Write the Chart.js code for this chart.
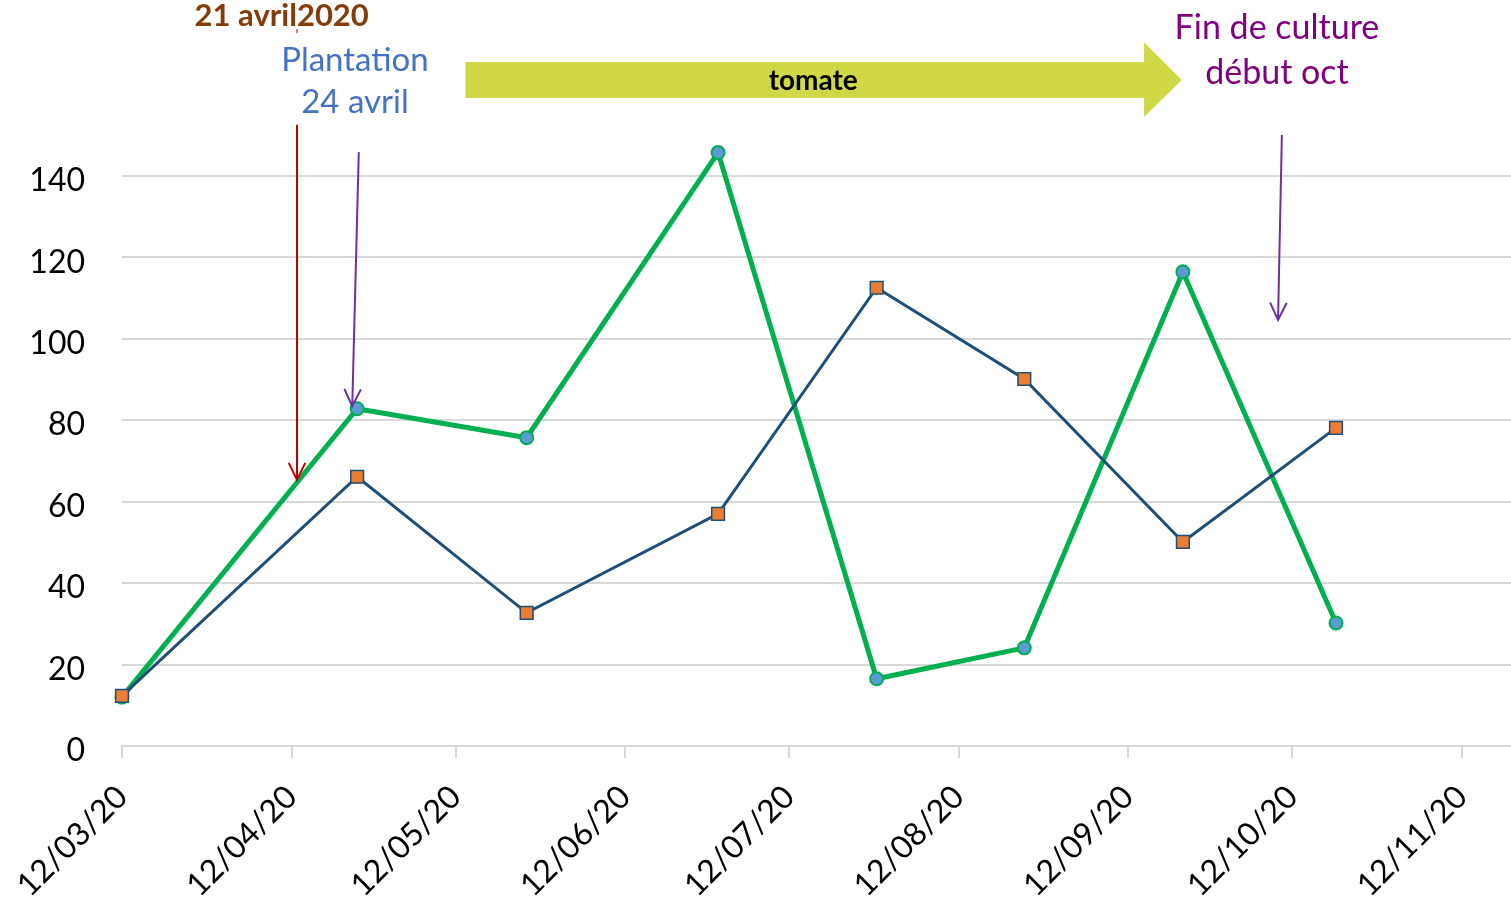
<!DOCTYPE html>
<html>
<head>
<meta charset="utf-8">
<script src="https://cdn.jsdelivr.net/npm/chart.js@4.4.1/dist/chart.umd.min.js"></script>
<style>
  html, body { margin: 0; padding: 0; background: #fff; }
  #wrap { width: 1511px; height: 908px; position: relative; }
</style>
</head>
<body>
<div id="wrap"><canvas id="chart"></canvas></div>
<script>
// sampling dates and values
const sampleDates = ['2020-03-12', '2020-04-24', '2020-05-25', '2020-06-29', '2020-07-28', '2020-08-24', '2020-09-22', '2020-10-20'];
const greenValues = [12.0, 82.8, 75.7, 145.7, 16.5, 24.1, 116.4, 30.2];
const blueValues = [12.3, 66.1, 32.7, 57.0, 112.5, 90.1, 50.1, 78.1];
const tickDates = ['2020-03-12', '2020-04-12', '2020-05-12', '2020-06-12', '2020-07-12', '2020-08-12', '2020-09-12', '2020-10-12', '2020-11-12'];
const yTicks = [0, 20, 40, 60, 80, 100, 120, 140];
const xStart = '2020-03-12';
const xEnd = '2020-11-21';

const DAY = 86400000;
const t0 = Date.parse(xStart);
const font = 'Lato, "Open Sans", sans-serif';
const grid = '#d9d9d9';

function fmtDate(ms) {
    const d = new Date(ms);
    const p = (n) => String(n).padStart(2, '0');
    return p(d.getUTCDate()) + '/' + p(d.getUTCMonth() + 1) + '/' + String(d.getUTCFullYear()).slice(2);
}

function arrow(ctx, x1, y1, x2, y2, color) {
    const a = Math.atan2(y2 - y1, x2 - x1);
    const len = 19, spread = 0.45;
    ctx.save();
    ctx.strokeStyle = color;
    ctx.lineWidth = 2;
    ctx.beginPath();
    ctx.moveTo(x1, y1);
    ctx.lineTo(x2, y2);
    ctx.moveTo(x2 - len * Math.cos(a - spread), y2 - len * Math.sin(a - spread));
    ctx.lineTo(x2, y2);
    ctx.lineTo(x2 - len * Math.cos(a + spread), y2 - len * Math.sin(a + spread));
    ctx.stroke();
    ctx.restore();
}

// annotations placed in axis units (days after start, y value)
const notes = {
    id: 'notes',
    afterDraw(chart) {
        const ctx = chart.ctx;
        const xs = chart.scales.x, ys = chart.scales.y;
        const X = (days) => xs.getPixelForValue(t0 + days * DAY);
        const Y = (v) => ys.getPixelForValue(v);

        // red arrow (21 avril)
        arrow(ctx, X(32), Y(152.5), X(32), Y(65.3), '#c00000');
        ctx.save();
        ctx.strokeStyle = '#c00000';
        ctx.lineWidth = 1;
        ctx.beginPath();
        ctx.moveTo(X(32), Y(176));
        ctx.lineTo(X(32), Y(175));
        ctx.stroke();
        ctx.restore();

        // purple arrows
        arrow(ctx, X(43.3), Y(145.8), X(42.1), Y(83.4), '#7030a0');
        arrow(ctx, X(212.1), Y(150), X(211.4), Y(104.6), '#7030a0');

        // big tomate arrow
        ctx.save();
        ctx.fillStyle = '#d1d845';
        ctx.beginPath();
        ctx.moveTo(X(62.8), Y(167.9));
        ctx.lineTo(X(186.9), Y(167.9));
        ctx.lineTo(X(186.9), Y(172.8));
        ctx.lineTo(X(193.8), Y(163.5));
        ctx.lineTo(X(186.9), Y(154.4));
        ctx.lineTo(X(186.9), Y(159.1));
        ctx.lineTo(X(62.8), Y(159.1));
        ctx.closePath();
        ctx.fill();
        ctx.restore();

        ctx.save();
        ctx.textAlign = 'center';
        ctx.textBaseline = 'middle';

        ctx.fillStyle = '#000';
        ctx.font = 'bold 28px ' + font;
        ctx.fillText('tomate', X(126.4), Y(163.3));

        ctx.fillStyle = '#843c0c';
        ctx.font = 'bold 31px ' + font;
        ctx.fillText('21 avril2020', X(29.2), Y(179.2));

        ctx.fillStyle = '#4472c4';
        ctx.font = '33px ' + font;
        ctx.fillText('Plantation', X(42.6), Y(168.4));
        ctx.fillText('24 avril', X(42.6), Y(157.9));

        ctx.fillStyle = '#800080';
        ctx.font = '34px ' + font;
        ctx.fillText('Fin de culture', X(211.2), Y(176.3));
        ctx.fillText('début oct', X(211.2), Y(165.2));
        ctx.restore();
    }
};

const toXY = (vals) => vals.map((v, i) => ({ x: Date.parse(sampleDates[i]), y: v }));

new Chart(document.getElementById('chart'), {
    type: 'line',
    data: {
        datasets: [{
            label: 'Série 2',
            data: toXY(blueValues),
            borderColor: '#1f4e79',
            borderWidth: 3,
            pointStyle: 'rect',
            pointRadius: 9,
            pointBackgroundColor: '#ed7d31',
            pointBorderColor: '#1f4e79',
            pointBorderWidth: 1.5,
            tension: 0,
            clip: false,
            order: 1
        }, {
            label: 'Série 1',
            data: toXY(greenValues),
            borderColor: '#00b050',
            borderWidth: 5,
            pointStyle: 'circle',
            pointRadius: 6.5,
            pointBackgroundColor: '#5b9bd5',
            pointBorderColor: '#00b050',
            pointBorderWidth: 2,
            tension: 0,
            clip: false,
            order: 2
        }]
    },
    options: {
        responsive: true,
        maintainAspectRatio: false,
        animation: false,
        events: [],
        layout: { autoPadding: false, padding: { top: 135, left: 0, right: 0, bottom: 0 } },
        plugins: {
            legend: { display: false },
            tooltip: { enabled: false }
        },
        scales: {
            x: {
                type: 'linear',
                min: Date.parse(xStart),
                max: Date.parse(xEnd),
                afterBuildTicks: (scale) => {
                    scale.ticks = tickDates.map((d) => ({ value: Date.parse(d) }));
                },
                afterFit: (scale) => {
                    scale.height = 162;
                    scale.paddingRight = 0;
                    scale.paddingLeft = 0;
                },
                ticks: {
                    color: '#000',
                    font: { family: font, size: 32 },
                    minRotation: 45,
                    maxRotation: 45,
                    padding: 20,
                    autoSkip: false,
                    callback: (value) => fmtDate(value)
                },
                grid: {
                    drawOnChartArea: false,
                    color: grid,
                    lineWidth: 2,
                    tickLength: 12
                },
                border: { color: grid, width: 2 }
            },
            y: {
                min: 0,
                max: 150,
                afterBuildTicks: (scale) => {
                    scale.ticks = yTicks.map((v) => ({ value: v }));
                },
                afterFit: (scale) => { scale.width = 122; },
                ticks: {
                    color: '#000',
                    font: { family: font, size: 32 },
                    padding: 37,
                    labelOffset: 5
                },
                grid: {
                    color: grid,
                    lineWidth: 2,
                    drawTicks: false
                },
                border: { display: false }
            }
        }
    },
    plugins: [notes]
});
</script>
</body>
</html>
